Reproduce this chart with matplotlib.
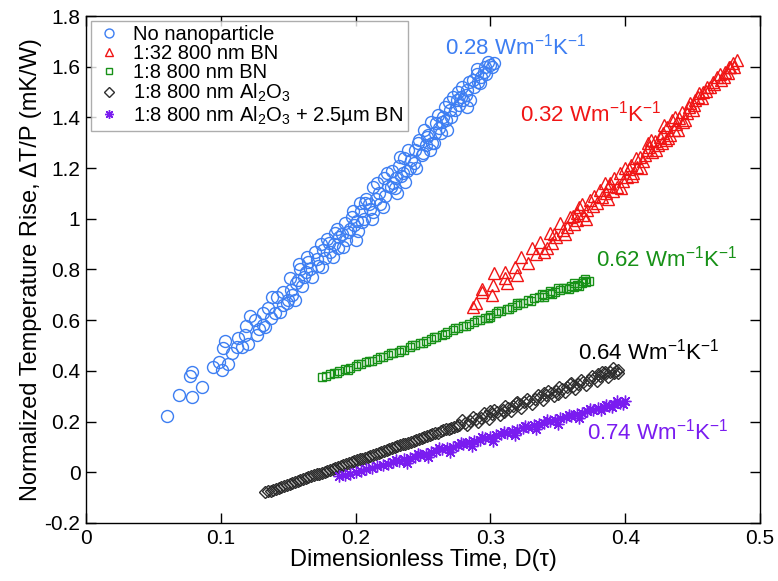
import matplotlib
matplotlib.use("Agg")
import matplotlib.pyplot as plt

plt.rcParams['font.family'] = ['Liberation Sans', 'DejaVu Sans']
plt.rcParams['mathtext.default'] = 'regular'

# ---------------- data ----------------
blue_x = [0.060, 0.069, 0.079, 0.086, 0.077, 0.079, 0.094, 0.099, 0.101, 0.105,
          0.102, 0.103, 0.112, 0.116, 0.120, 0.118, 0.119, 0.122, 0.128, 0.133,
          0.131, 0.135, 0.140, 0.144, 0.149, 0.155, 0.131, 0.138, 0.146, 0.151,
          0.150, 0.159, 0.160, 0.165, 0.168, 0.175, 0.176, 0.183, 0.185, 0.191,
          0.194, 0.197, 0.200, 0.205, 0.207, 0.213, 0.217, 0.220, 0.226, 0.231,
          0.237, 0.203, 0.213, 0.223, 0.228, 0.233, 0.243, 0.246, 0.253, 0.255,
          0.260, 0.268, 0.270, 0.275, 0.283, 0.283, 0.287, 0.292, 0.295, 0.300,
          0.303, 0.171, 0.180, 0.188, 0.210, 0.240, 0.250, 0.263, 0.278, 0.290,
          0.157, 0.163, 0.199, 0.235, 0.258, 0.265,
          0.152, 0.156, 0.158, 0.162, 0.164, 0.166, 0.170, 0.172, 0.174, 0.177,
          0.179, 0.181, 0.184, 0.186, 0.187, 0.190, 0.192, 0.193, 0.196, 0.198,
          0.201, 0.202, 0.204, 0.206, 0.208, 0.211, 0.212, 0.215, 0.216, 0.218,
          0.221, 0.222, 0.224, 0.227, 0.229, 0.230, 0.232, 0.234, 0.236, 0.238,
          0.239, 0.241, 0.244, 0.245, 0.247, 0.249, 0.251, 0.252, 0.254, 0.256,
          0.257, 0.259, 0.261, 0.262, 0.264, 0.266, 0.267, 0.269, 0.271, 0.272,
          0.274, 0.276, 0.277, 0.279, 0.280, 0.282, 0.284, 0.285, 0.288, 0.290,
          0.291, 0.293, 0.296, 0.297, 0.298, 0.301,
          0.108, 0.113, 0.125, 0.127, 0.137, 0.142, 0.146, 0.153]
blue_y = [0.221, 0.303, 0.299, 0.335, 0.378, 0.394, 0.414, 0.437, 0.402, 0.429,
          0.492, 0.516, 0.496, 0.496, 0.508, 0.540, 0.579, 0.618, 0.567, 0.575,
          0.630, 0.650, 0.630, 0.634, 0.666, 0.681, 0.583, 0.693, 0.713, 0.768,
          0.681, 0.800, 0.733, 0.831, 0.772, 0.811, 0.878, 0.851, 0.945, 0.890,
          0.949, 1.008, 0.918, 0.989, 1.063, 1.028, 1.103, 1.048, 1.126, 1.103,
          1.146, 1.063, 1.126, 1.182, 1.142, 1.245, 1.221, 1.300, 1.323, 1.272,
          1.378, 1.351, 1.430, 1.469, 1.442, 1.508, 1.548, 1.536, 1.579, 1.607,
          1.615, 0.840, 0.905, 0.930, 1.060, 1.200, 1.260, 1.340, 1.480, 1.570,
          0.760, 0.790, 0.975, 1.180, 1.300, 1.400,
          0.720, 0.745, 0.820, 0.770, 0.850, 0.800, 0.870, 0.815, 0.900, 0.845,
          0.920, 0.870, 0.900, 0.960, 0.885, 0.940, 0.985, 0.915, 0.960, 1.030,
          0.990, 0.950, 1.030, 1.000, 1.080, 1.040, 1.000, 1.080, 1.140, 1.060,
          1.160, 1.090, 1.130, 1.190, 1.120, 1.160, 1.210, 1.170, 1.240, 1.190,
          1.270, 1.230, 1.270, 1.200, 1.310, 1.250, 1.350, 1.290, 1.330, 1.380,
          1.300, 1.340, 1.410, 1.360, 1.380, 1.440, 1.390, 1.460, 1.400, 1.480,
          1.430, 1.500, 1.450, 1.520, 1.470, 1.490, 1.540, 1.470, 1.520, 1.590,
          1.540, 1.560, 1.600, 1.570, 1.620, 1.600,
          0.470, 0.530, 0.600, 0.540, 0.610, 0.690, 0.660, 0.700]

red_x = [0.287, 0.289, 0.294, 0.294, 0.301, 0.302, 0.303, 0.311, 0.311, 0.312,
         0.318, 0.320, 0.323, 0.328, 0.331, 0.334, 0.337, 0.342, 0.344, 0.346,
         0.349, 0.352, 0.354, 0.357, 0.359, 0.362, 0.364, 0.364, 0.366, 0.369,
         0.372, 0.374, 0.376, 0.379, 0.381, 0.383, 0.386, 0.388, 0.389, 0.391,
         0.394, 0.396, 0.398, 0.401, 0.403, 0.404, 0.406, 0.409, 0.411, 0.413,
         0.416, 0.417, 0.418, 0.420, 0.422, 0.424, 0.426, 0.428, 0.430, 0.431,
         0.433, 0.435, 0.436, 0.438, 0.440, 0.443, 0.446, 0.448, 0.450, 0.452,
         0.455, 0.457, 0.460, 0.463, 0.465, 0.468, 0.471, 0.474, 0.476, 0.478,
         0.480, 0.483,
         0.340, 0.347, 0.355, 0.361, 0.368, 0.371, 0.377, 0.385, 0.387, 0.392,
         0.397, 0.400, 0.405, 0.408, 0.412, 0.415, 0.419, 0.423, 0.427, 0.429,
         0.432, 0.437, 0.439, 0.442, 0.444, 0.447, 0.451, 0.454, 0.458, 0.461,
         0.466, 0.470, 0.473, 0.477, 0.481]
red_y = [0.654, 0.668, 0.713, 0.725, 0.701, 0.740, 0.788, 0.768, 0.792, 0.745,
         0.811, 0.780, 0.851, 0.827, 0.886, 0.860, 0.910, 0.886, 0.945, 0.905,
         0.929, 0.985, 0.955, 0.969, 1.008, 0.980, 0.996, 1.024, 1.048, 1.015,
         1.036, 1.075, 1.050, 1.063, 1.115, 1.085, 1.103, 1.130, 1.142, 1.110,
         1.126, 1.182, 1.150, 1.166, 1.195, 1.213, 1.180, 1.205, 1.245, 1.228,
         1.272, 1.300, 1.284, 1.262, 1.305, 1.290, 1.323, 1.340, 1.312, 1.363,
         1.330, 1.390, 1.350, 1.372, 1.398, 1.380, 1.418, 1.457, 1.430, 1.470,
         1.497, 1.475, 1.505, 1.520, 1.540, 1.560, 1.548, 1.580, 1.575, 1.598,
         1.615, 1.627,
         0.870, 0.940, 0.940, 1.010, 1.060, 1.000, 1.090, 1.140, 1.080, 1.160,
         1.120, 1.200, 1.170, 1.240, 1.200, 1.250, 1.310, 1.270, 1.300, 1.370,
         1.320, 1.400, 1.350, 1.420, 1.390, 1.440, 1.450, 1.480, 1.500, 1.520,
         1.530, 1.570, 1.560, 1.600, 1.600]

green_x = [0.175, 0.178, 0.181, 0.184, 0.188, 0.192, 0.196, 0.200, 0.204, 0.208,
           0.212, 0.216, 0.220, 0.224, 0.228, 0.232, 0.236, 0.240, 0.244, 0.248,
           0.252, 0.256, 0.260, 0.264, 0.268, 0.272, 0.276, 0.280, 0.284, 0.288,
           0.292, 0.296, 0.300, 0.304, 0.308, 0.312, 0.316, 0.320, 0.324, 0.328,
           0.332, 0.336, 0.340, 0.344, 0.348, 0.352, 0.356, 0.360, 0.364, 0.368,
           0.371, 0.373, 0.350, 0.358, 0.362, 0.366, 0.370, 0.344, 0.340, 0.300,
           0.320, 0.186, 0.194, 0.202, 0.210, 0.218, 0.226, 0.234, 0.242, 0.250,
           0.258, 0.266, 0.274, 0.282, 0.290, 0.298, 0.306, 0.314, 0.322, 0.330,
           0.338, 0.346, 0.354, 0.362, 0.369]
green_y = [0.376, 0.381, 0.386, 0.392, 0.399, 0.406, 0.413, 0.420, 0.427, 0.434,
           0.441, 0.448, 0.455, 0.462, 0.469, 0.476, 0.484, 0.493, 0.501, 0.510,
           0.518, 0.526, 0.535, 0.543, 0.552, 0.560, 0.568, 0.577, 0.585, 0.594,
           0.602, 0.610, 0.619, 0.627, 0.636, 0.644, 0.652, 0.661, 0.669, 0.678,
           0.686, 0.693, 0.700, 0.706, 0.713, 0.720, 0.727, 0.734, 0.740, 0.747,
           0.752, 0.756, 0.728, 0.722, 0.748, 0.735, 0.762, 0.714, 0.693, 0.612,
           0.668, 0.391, 0.405, 0.428, 0.441, 0.456, 0.470, 0.484, 0.501, 0.510,
           0.534, 0.545, 0.568, 0.577, 0.601, 0.609, 0.636, 0.645, 0.669, 0.677,
           0.703, 0.704, 0.728, 0.730, 0.755]

black_x = [0.133, 0.137, 0.141, 0.145, 0.149, 0.153, 0.157, 0.161, 0.165, 0.169,
           0.173, 0.177, 0.181, 0.185, 0.189, 0.193, 0.197, 0.201, 0.205, 0.209,
           0.213, 0.217, 0.221, 0.225, 0.229, 0.233, 0.237, 0.241, 0.245, 0.249,
           0.253, 0.257, 0.261, 0.265, 0.269, 0.273, 0.277, 0.281, 0.285, 0.289,
           0.293, 0.297, 0.301, 0.305, 0.309, 0.313, 0.317, 0.321, 0.325, 0.329,
           0.333, 0.337, 0.341, 0.345, 0.349, 0.353, 0.357, 0.361, 0.365, 0.369,
           0.373, 0.377, 0.381, 0.385, 0.389, 0.393, 0.395, 0.300, 0.320, 0.340,
           0.360, 0.380, 0.392, 0.310, 0.350, 0.385,
           0.135, 0.139, 0.143, 0.147, 0.151, 0.155, 0.159, 0.163, 0.167, 0.171,
           0.175, 0.179, 0.183, 0.187, 0.191, 0.195, 0.199, 0.203, 0.207, 0.211,
           0.215, 0.219, 0.223, 0.227, 0.231, 0.235, 0.239, 0.243, 0.247, 0.251,
           0.255, 0.259, 0.263, 0.267, 0.271, 0.275,
           0.279, 0.283, 0.287, 0.291, 0.295, 0.299, 0.303, 0.307, 0.311, 0.315,
           0.319, 0.323, 0.327, 0.331, 0.335, 0.339, 0.343, 0.347, 0.351, 0.355,
           0.359, 0.363, 0.367, 0.371, 0.375, 0.379, 0.383, 0.387, 0.391, 0.395]
black_y = [-0.079, -0.072, -0.064, -0.057, -0.049, -0.042, -0.035, -0.027, -0.020, -0.012,
           -0.005, 0.002, 0.010, 0.017, 0.024, 0.032, 0.039, 0.047, 0.054, 0.061,
           0.069, 0.076, 0.084, 0.091, 0.098, 0.106, 0.113, 0.120, 0.128, 0.135,
           0.143, 0.150, 0.157, 0.165, 0.172, 0.180, 0.187, 0.194, 0.202, 0.209,
           0.216, 0.224, 0.231, 0.239, 0.246, 0.253, 0.261, 0.268, 0.276, 0.283,
           0.290, 0.298, 0.305, 0.312, 0.320, 0.327, 0.335, 0.342, 0.349, 0.357,
           0.364, 0.372, 0.379, 0.386, 0.394, 0.401, 0.405, 0.240, 0.276, 0.314,
           0.352, 0.388, 0.392, 0.236, 0.310, 0.395,
           -0.075, -0.068, -0.060, -0.053, -0.045, -0.038, -0.031, -0.023, -0.016, -0.008,
           -0.001, 0.006, 0.014, 0.021, 0.028, 0.036, 0.043, 0.051, 0.058, 0.065,
           0.073, 0.080, 0.088, 0.095, 0.102, 0.110, 0.117, 0.124, 0.132, 0.139,
           0.147, 0.154, 0.161, 0.169, 0.176, 0.184,
           0.205, 0.185, 0.218, 0.198, 0.232, 0.212, 0.246, 0.226, 0.260, 0.240,
           0.275, 0.255, 0.290, 0.270, 0.305, 0.285, 0.320, 0.300, 0.335, 0.315,
           0.350, 0.330, 0.365, 0.345, 0.380, 0.360, 0.395, 0.375, 0.410, 0.390]

purple_x = [0.188, 0.192, 0.196, 0.200, 0.204, 0.208, 0.212, 0.216, 0.220, 0.224,
            0.228, 0.232, 0.236, 0.240, 0.244, 0.248, 0.252, 0.256, 0.260, 0.264,
            0.268, 0.272, 0.276, 0.280, 0.284, 0.288, 0.292, 0.296, 0.300, 0.304,
            0.308, 0.312, 0.316, 0.320, 0.324, 0.328, 0.332, 0.336, 0.340, 0.344,
            0.348, 0.352, 0.356, 0.360, 0.364, 0.368, 0.372, 0.376, 0.380, 0.384,
            0.388, 0.392, 0.396, 0.400, 0.398, 0.394, 0.390,
            0.230, 0.246, 0.262, 0.278, 0.294, 0.310, 0.326, 0.342, 0.358, 0.374,
            0.386, 0.238, 0.254, 0.270, 0.286, 0.302, 0.318, 0.334, 0.350, 0.366,
            0.382]
purple_y = [-0.016, -0.010, -0.005, 0.001, 0.006, 0.012, 0.018, 0.023, 0.029, 0.034,
            0.040, 0.045, 0.051, 0.057, 0.062, 0.068, 0.073, 0.079, 0.085, 0.090,
            0.096, 0.101, 0.107, 0.113, 0.118, 0.124, 0.129, 0.135, 0.141, 0.146,
            0.152, 0.157, 0.163, 0.168, 0.174, 0.180, 0.185, 0.191, 0.196, 0.202,
            0.208, 0.213, 0.219, 0.224, 0.230, 0.235, 0.241, 0.247, 0.252, 0.258,
            0.263, 0.269, 0.275, 0.280, 0.268, 0.281, 0.258,
            0.050, 0.072, 0.095, 0.116, 0.138, 0.160, 0.183, 0.205, 0.227, 0.249,
            0.266, 0.036, 0.060, 0.080, 0.104, 0.125, 0.147, 0.170, 0.191, 0.214,
            0.244]

labels = ["No nanoparticle", "1:32 800 nm BN", "1:8 800 nm BN",
          "1:8 800 nm Al$_2$O$_3$", "1:8 800 nm Al$_2$O$_3$ + 2.5\u00b5m BN"]
notes = ["0.28 Wm$^{-1}$K$^{-1}$", "0.32 Wm$^{-1}$K$^{-1}$", "0.62 Wm$^{-1}$K$^{-1}$",
         "0.64 Wm$^{-1}$K$^{-1}$", "0.74 Wm$^{-1}$K$^{-1}$"]
note_x = [0.266, 0.322, 0.378, 0.365, 0.372]
note_y = [1.680, 1.415, 0.845, 0.475, 0.160]

xticks = [0, 0.1, 0.2, 0.3, 0.4, 0.5]
xticklabels = ["0", "0.1", "0.2", "0.3", "0.4", "0.5"]
yticks = [-0.2, 0, 0.2, 0.4, 0.6, 0.8, 1.0, 1.2, 1.4, 1.6, 1.8]
yticklabels = ["-0.2", "0", "0.2", "0.4", "0.6", "0.8", "1", "1.2", "1.4", "1.6", "1.8"]

# ---------------- styling ----------------
c_blue = '#3d7ef2'
c_red = '#f01515'
c_green = '#179117'
c_black = '#2e2e2e'
c_purple = '#7a1cf0'

fig = plt.figure(figsize=(7.78, 5.81), dpi=100)
ax = fig.add_axes([86/778, 1-523/581, (760-86)/778, (523-16)/581])

ax.plot(blue_x, blue_y, 'o', ms=8.6, mfc='none', mec=c_blue, mew=1.0, label=labels[0])
ax.plot(red_x, red_y, '^', ms=8.6, mfc='none', mec=c_red, mew=1.0, label=labels[1])
ax.plot(green_x, green_y, 's', ms=6.2, mfc='none', mec=c_green, mew=1.0, label=labels[2])
ax.plot(black_x, black_y, 'D', ms=6.4, mfc='none', mec=c_black, mew=1.0, label=labels[3])
ax.plot(purple_x, purple_y, marker=(8, 2, 0), ls='none', ms=8.5, mec=c_purple,
        mfc=c_purple, mew=1.0, label=labels[4])

note_colors = [c_blue, c_red, c_green, 'black', c_purple]
for t, x, y, c in zip(notes, note_x, note_y, note_colors):
    ax.text(x, y, t, color=c, fontsize=16, va='center', ha='left')

ax.set_xlim(0, 0.5)
ax.set_ylim(-0.2, 1.8)
ax.set_xticks(xticks)
ax.set_xticklabels(xticklabels)
ax.set_yticks(yticks)
ax.set_yticklabels(yticklabels)
ax.tick_params(direction='in', length=7, width=1, top=True, right=True,
               labelsize=15, pad=4)
for s in ax.spines.values():
    s.set_linewidth(1.0)

ax.set_xlabel("Dimensionless Time, D(\u03c4)", fontsize=17, labelpad=1)
ax.set_ylabel("Normalized Temperature Rise, \u0394T/P (mK/W)", fontsize=17, labelpad=2)

leg = ax.legend(loc='upper left', fontsize=14.5, frameon=True, fancybox=False,
                edgecolor='#999999', borderaxespad=0.25, handletextpad=0.5,
                labelspacing=0.0, borderpad=0.2, handlelength=1.4, markerscale=0.75)
leg.get_frame().set_linewidth(1.0)

fig.savefig("out.png", dpi=100)
